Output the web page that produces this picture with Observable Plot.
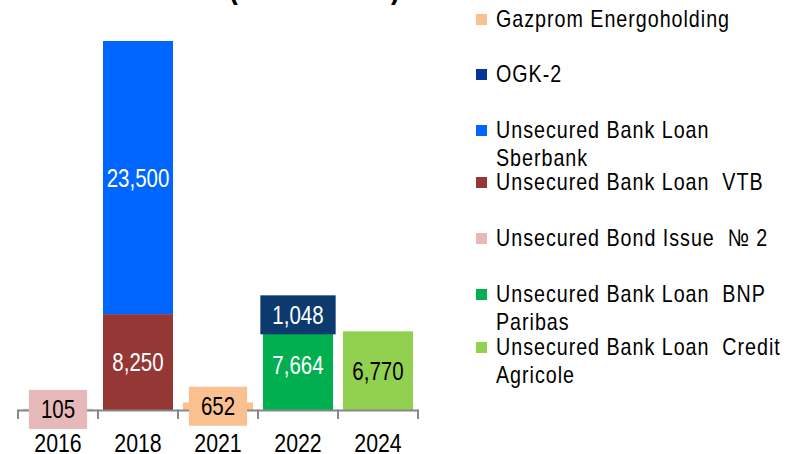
<!DOCTYPE html>
<html><head><meta charset="utf-8">
<script src="https://cdn.jsdelivr.net/npm/d3@7"></script>
<script src="https://cdn.jsdelivr.net/npm/@observablehq/plot@0.6"></script>
<style>
html,body{margin:0;padding:0;background:#fff;overflow:hidden;}
#wrap{position:relative;width:788px;height:454px;font-family:'Liberation Sans',Arial,sans-serif;}
#chart{position:absolute;left:0;top:0;}
#title{position:absolute;left:0;top:-30.5px;width:400px;text-align:right;font-weight:bold;font-size:33px;line-height:33px;white-space:nowrap;color:#000;transform:scaleX(0.82);transform-origin:400px 0;}
.item{position:absolute;left:476px;}
.sw{position:absolute;left:0;width:11px;height:11px;}
.lab{position:absolute;left:20px;top:0;width:366px;font-size:24px;line-height:28px;letter-spacing:1.2px;white-space:pre-wrap;color:#000;transform:scaleX(0.82);transform-origin:0 0;}
</style></head><body>
<div id="wrap"><div id="chart"></div><div id="title"></div><div id="legend"></div></div>
<script>
// ---- data ----
const years = ["2016", "2018", "2021", "2022", "2024"];
const seriesNames = [
  "Gazprom Energoholding",
  "OGK-2",
  "Unsecured Bank Loan  Sberbank",
  "Unsecured Bank Loan  VTB",
  "Unsecured Bond Issue  № 2",
  "Unsecured Bank Loan  BNP Paribas",
  "Unsecured Bank Loan  Credit Agricole"
];
const gazpromEnergoholding = [null, null, 652, null, null];
const ogk2 = [null, null, null, 1048, null];
const sberbank = [null, 23500, null, null, null];
const vtb = [null, 8250, null, null, null];
const bondIssue2 = [105, null, null, null, null];
const bnpParibas = [null, null, null, 7664, null];
const creditAgricole = [null, null, null, null, 6770];
const seriesValues = [gazpromEnergoholding, ogk2, sberbank, vtb, bondIssue2, bnpParibas, creditAgricole];
const colors = ["#FAC090", "#0D3A6E", "#0066FF", "#953735", "#E6B9B8", "#00B050", "#92D050"];
const legendColors = ["#FAC090", "#053597", "#0066FF", "#953735", "#E6B9B8", "#00B050", "#92D050"];
const labelColors = ["#000000", "#FFFFFF", "#FFFFFF", "#FFFFFF", "#000000", "#FFFFFF", "#000000"];
const stackOrder = [4, 3, 2, 0, 5, 1, 6]; // bottom to top
const titleText = "(RUB million)";

// ---- build rows ----
const rows = [];
for (const s of stackOrder) {
  seriesValues[s].forEach((v, i) => {
    if (v != null) rows.push({year: years[i], series: seriesNames[s], value: v, idx: s});
  });
}
const cum = {};
for (const r of rows) {
  const base = cum[r.year] || 0;
  r.y1 = base; r.y2 = base + r.value;
  cum[r.year] = r.y2;
}

const FONT = "'Liberation Sans',Arial,sans-serif";
const NARROW = 0.82; // emulate a narrow sans face
const W = 788, H = 454, mL = 16, mR = 369, mT = 41, mB = 44;
const svgns = "http://www.w3.org/2000/svg";
const fmt = d3.format(",");
const ctx = document.createElement("canvas").getContext("2d");

function el(name, attrs) {
  const e = document.createElementNS(svgns, name);
  for (const k in attrs) e.setAttribute(k, attrs[k]);
  return e;
}

function axisMark(index, scales) {
  const x = scales.x, y = scales.y;
  const bw = x.bandwidth(), step = x.step();
  const y0 = y(0);
  const g = el("g", {});
  const xs = years.map(v => x(v) + bw / 2 - step / 2);
  xs.push(x(years[years.length - 1]) + bw / 2 + step / 2);
  g.appendChild(el("line", {x1: xs[0], x2: xs[xs.length - 1], y1: y0 + 0.5, y2: y0 + 0.5, stroke: "#878787", "stroke-width": 2}));
  for (const xv of xs) {
    g.appendChild(el("line", {x1: xv, x2: xv, y1: y0 - 0.5, y2: y0 + 9, stroke: "#878787", "stroke-width": 2}));
  }
  for (const v of years) {
    const t = el("text", {transform: `translate(${x(v) + bw / 2},${y0 + 33})scale(${NARROW},1)`, "text-anchor": "middle", dy: "0.36em", "font-size": 26, fill: "#000"});
    t.textContent = v;
    g.appendChild(t);
  }
  return g;
}

function labelMark(index, scales) {
  const x = scales.x, y = scales.y;
  const bw = x.bandwidth();
  const g = el("g", {});
  ctx.font = "25px " + FONT;
  const boxH = 39;
  for (const r of rows) {
    const cx = x(r.year) + bw / 2;
    const cy = y((r.y1 + r.y2) / 2);
    const segH = Math.abs(y(r.y1) - y(r.y2));
    const label = fmt(r.value);
    const tw = ctx.measureText(label).width * NARROW;
    if (segH < boxH) {
      const w = tw + 24;
      g.appendChild(el("rect", {x: cx - w / 2, y: cy - boxH / 2, width: w, height: boxH, fill: colors[r.idx]}));
    }
    const t = el("text", {transform: `translate(${cx},${cy})scale(${NARROW},1)`, dy: "0.36em", "text-anchor": "middle", "font-size": 25, fill: labelColors[r.idx]});
    t.textContent = label;
    g.appendChild(t);
  }
  return g;
}

const chart = Plot.plot({
  width: W, height: H,
  marginLeft: mL, marginRight: mR, marginTop: mT, marginBottom: mB,
  x: {domain: years, paddingInner: 0.13, paddingOuter: 0.065, axis: null},
  y: {axis: null},
  color: {domain: seriesNames, range: colors},
  style: {fontFamily: FONT, background: "transparent", overflow: "visible", color: "#000"},
  marks: [
    Plot.barY(rows, Plot.stackY({x: "year", y: "value", fill: "series"})),
    axisMark,
    labelMark
  ]
});
document.getElementById("chart").appendChild(chart);
document.getElementById("title").textContent = titleText;

// ---- legend ----
const legendOrder = [0, 1, 2, 3, 4, 5, 6];
const legendCenters = [19, 74, 130, 182, 238, 294, 347];
const legend = document.getElementById("legend");
legendOrder.forEach((s, k) => {
  const item = document.createElement("div");
  item.className = "item";
  item.style.top = (legendCenters[k] - 14) + "px";
  const sw = document.createElement("div");
  sw.className = "sw";
  sw.style.top = "8.5px";
  sw.style.background = legendColors[s];
  const lab = document.createElement("div");
  lab.className = "lab";
  lab.textContent = seriesNames[s];
  item.appendChild(sw); item.appendChild(lab);
  legend.appendChild(item);
});
</script>
</body></html>
